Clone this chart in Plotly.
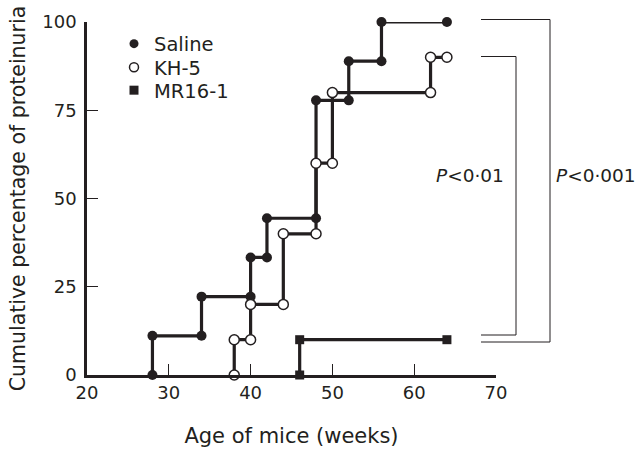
import plotly.graph_objects as go

# ---- data ----
saline_age = [28, 28, 34, 34, 40, 40, 42, 42, 48, 48, 52, 52, 56, 56, 64]
saline_pct = [0, 11.1, 11.1, 22.2, 22.2, 33.3, 33.3, 44.4, 44.4, 77.8, 77.8, 88.9, 88.9, 100, 100]

kh5_age = [38, 38, 40, 40, 44, 44, 48, 48, 50, 50, 62, 62, 64]
kh5_pct = [0, 10, 10, 20, 20, 40, 40, 60, 60, 80, 80, 90, 90]

mr16_age = [46, 46, 64]
mr16_pct = [0, 10, 10]

x_ticks = [20, 30, 40, 50, 60, 70]
y_ticks = [0, 25, 50, 75, 100]

series_names = ["Saline", "KH-5", "MR16-1"]
p_labels = ["<i>P</i>&lt;0·01", "<i>P</i>&lt;0·001"]

# ---- style ----
INK = "#231f20"
FONT = "DejaVu Sans"

L, R, T, B = 87, 144, 22, 89
W, H = 640, 464
PW, PH = W - L - R, H - T - B


def px(xp):
    return (xp - L) / PW


def py(yp):
    return (H - B - yp) / PH


fig = go.Figure()

line_style = dict(color=INK, width=3.2)

fig.add_trace(go.Scatter(
    x=saline_age, y=saline_pct, mode="lines+markers", showlegend=False,
    line=line_style, cliponaxis=False,
    marker=dict(symbol="circle", size=10, color=INK, line=dict(width=0))))
fig.add_trace(go.Scatter(
    x=kh5_age, y=kh5_pct, mode="lines+markers", showlegend=False,
    line=line_style, cliponaxis=False,
    marker=dict(symbol="circle", size=10, color="white", line=dict(color=INK, width=1.5))))
fig.add_trace(go.Scatter(
    x=mr16_age, y=mr16_pct, mode="lines+markers", showlegend=False,
    line=line_style, cliponaxis=False,
    marker=dict(symbol="square", size=9, color=INK, line=dict(width=0))))

# legend entries (marker only), each in its own legend box for exact row spacing
legend_markers = [
    dict(symbol="circle", size=9, color=INK, line=dict(width=0)),
    dict(symbol="circle", size=9, color="white", line=dict(color=INK, width=1.5)),
    dict(symbol="square", size=9, color=INK, line=dict(width=0)),
]
legend_ids = ["legend", "legend2", "legend3"]
legend_tops = [24.5, 48, 71]
for name, mk, lid in zip(series_names, legend_markers, legend_ids):
    fig.add_trace(go.Scatter(x=[None], y=[None], mode="markers", name=name,
                             marker=mk, legend=lid))

# significance brackets
brackets = [
    # (left x px, right x px, top y px, bottom y px)
    (481, 516, 56.5, 335),
    (481, 550, 19.5, 342),
]
for (x0, x1, y0, y1) in brackets:
    fig.add_shape(
        type="path", xref="paper", yref="paper",
        path=f"M {px(x0)},{py(y0)} L {px(x1)},{py(y0)} L {px(x1)},{py(y1)} L {px(x0)},{py(y1)}",
        line=dict(color=INK, width=1))

for txt, cx in zip(p_labels, [470, 596]):
    fig.add_annotation(
        x=px(cx), y=py(175), xref="paper", yref="paper", text=txt, showarrow=False,
        xanchor="center", yanchor="middle", font=dict(family=FONT, size=18.5, color=INK))

axis_common = dict(
    showline=True, linecolor=INK, linewidth=2.5, ticks="inside", ticklen=11,
    tickwidth=1, tickcolor=INK, showgrid=False, zeroline=False, automargin=False,
    tickfont=dict(family=FONT, size=18, color=INK), mirror=False,
)

fig.update_xaxes(range=[20, 70], tickvals=x_ticks, ticklabelstandoff=0,
                 title=dict(text="Age of mice (weeks)", font=dict(family=FONT, size=21, color=INK), standoff=26),
                 **axis_common)
fig.update_yaxes(range=[0, 100], tickvals=y_ticks, ticklabelstandoff=4,
                 title=dict(text="Cumulative percentage of proteinuria", font=dict(family=FONT, size=20.5, color=INK), standoff=12),
                 **axis_common)

legend_style = dict(xanchor="left", yanchor="top", bgcolor="rgba(0,0,0,0)",
                    font=dict(family=FONT, size=19.5, color=INK), itemwidth=30)
layout_legends = {}
for lid, top in zip(legend_ids, legend_tops):
    layout_legends[lid] = dict(x=px(114), y=py(top), **legend_style)

fig.update_layout(
    width=W, height=H, margin=dict(l=L, r=R, t=T, b=B),
    paper_bgcolor="white", plot_bgcolor="white",
    font=dict(family=FONT, color=INK),
    **layout_legends,
)

fig.write_html("out.html", config={"displayModeBar": False},
               post_script="document.body.style.margin='0';")
